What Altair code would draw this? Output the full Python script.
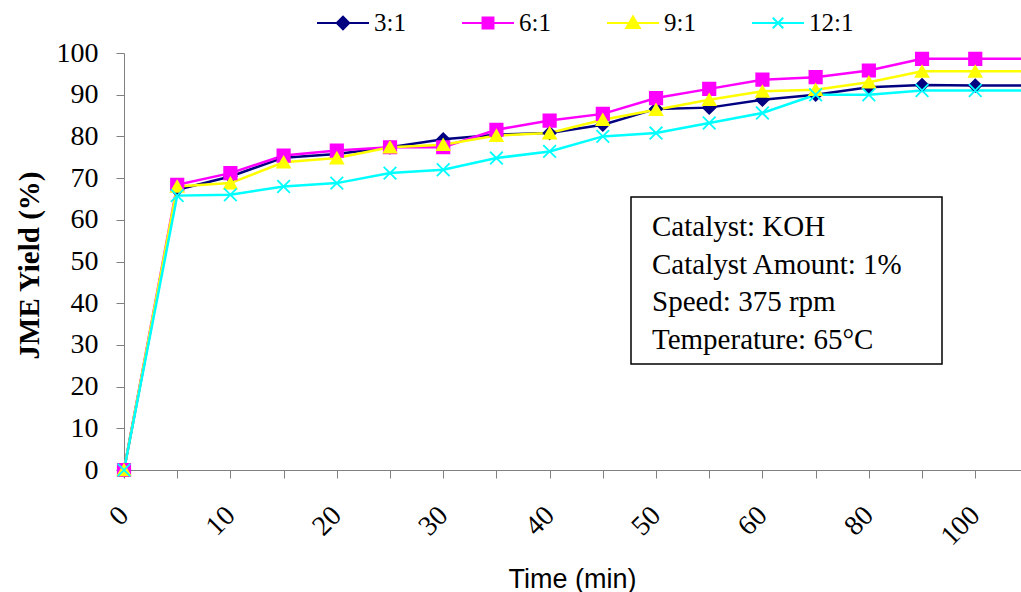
import json
import altair as alt
import pandas as pd

# ---- data ----
times = ["0", "5", "10", "15", "20", "25", "30", "35", "40", "45", "50", "55",
         "60", "70", "80", "90", "100", "110"]
series_names = ["3:1", "6:1", "9:1", "12:1"]
y_3 = [0, 67.2, 70.4, 74.9, 75.8, 77.4, 79.3, 80.4, 80.8, 82.8, 86.6, 86.9,
       88.8, 90.0, 91.8, 92.3, 92.2, 92.2]
y_6 = [0, 68.4, 71.2, 75.4, 76.6, 77.4, 77.4, 81.6, 83.8, 85.4, 89.2, 91.4,
       93.6, 94.2, 95.8, 98.6, 98.6, 98.6]
y_9 = [0, 68.0, 68.8, 73.8, 74.8, 77.4, 78.0, 80.2, 80.8, 84.0, 86.4, 88.8,
       90.8, 91.2, 93.0, 95.6, 95.6, 95.6]
y_12 = [0, 65.8, 66.0, 68.0, 68.8, 71.2, 72.0, 74.8, 76.4, 80.0, 80.8, 83.2,
        85.6, 90.0, 90.0, 91.0, 91.0, 91.0]
colors = ["#000080", "#FF00FF", "#FFFF00", "#00FFFF"]
note_lines = ["Catalyst: KOH", "Catalyst Amount: 1%", "Speed: 375 rpm",
              "Temperature: 65°C"]

rows = []
for name, ys in zip(series_names, [y_3, y_6, y_9, y_12]):
    for i, v in enumerate(ys):
        rows.append({"idx": i, "time": times[i], "Ratio": name, "yield": v})
df = pd.DataFrame(rows)
one_row = pd.DataFrame({"note": ["box"]})

SERIF = "Liberation Serif"
SANS = "Liberation Sans"

label_expr = ("datum.value % 2 == 0 ? " + json.dumps(times) +
              "[datum.value] : ''")

x_enc = alt.X(
    "idx:Q",
    scale=alt.Scale(domain=[0, 16.86], nice=False, zero=False),
    axis=alt.Axis(
        values=list(range(17)), labelExpr=label_expr, grid=False,
        labelAngle=315, labelAlign="right", labelBaseline="middle",
        labelFont=SERIF, labelFontSize=28, labelColor="black",
        labelPadding=33, tickSize=8, tickColor="#808080",
        domainColor="#808080", labelOverlap=False,
        title="Time (min)", titleFont=SANS, titleFontSize=27,
        titleFontWeight="normal", titleColor="black",
        titleX=448, titleY=117, titleAlign="center",
        titleBaseline="alphabetic",
    ),
)
y_enc = alt.Y(
    "yield:Q",
    scale=alt.Scale(domain=[0, 100], nice=False),
    axis=alt.Axis(
        values=list(range(0, 101, 10)), grid=False, labelFont=SERIF,
        labelFontSize=28, labelColor="black", labelPadding=18, tickSize=8,
        tickColor="#808080", domainColor="#808080",
        title="JME Yield (%)", titleFont=SERIF, titleFontSize=29,
        titleFontWeight="bold", titleColor="black", titleAngle=270,
        titleX=-95, titleY=212, titleAlign="center", titleBaseline="middle",
    ),
)

dom = series_names
stroke_nolegend = alt.Stroke("Ratio:N", scale=alt.Scale(domain=dom, range=colors), legend=None)
fill_nolegend = alt.Fill("Ratio:N", scale=alt.Scale(domain=dom, range=colors), legend=None)

lines = alt.Chart(df).mark_line(strokeWidth=2.5).encode(
    x=x_enc, y=y_enc, stroke=stroke_nolegend, order=alt.Order("idx:Q"))

marker_shapes = ["diamond", "square", "triangle-up", "M-1,-1L1,1M-1,1L1,-1"]
points = alt.Chart(df).mark_point(filled=True, opacity=1, strokeWidth=1.8).encode(
    x=x_enc, y=y_enc,
    shape=alt.Shape("Ratio:N", scale=alt.Scale(domain=dom, range=marker_shapes), legend=None),
    size=alt.Size("Ratio:N", scale=alt.Scale(domain=dom, range=[150, 160, 170, 150]), legend=None),
    fill=fill_nolegend, stroke=stroke_nolegend,
)

legend_paths = [
    "M-1,0L-0.24,0M0.24,0L1,0M-0.24,0L0,-0.24L0.24,0L0,0.24Z",
    "M-1,0L1,0M-0.21,-0.21L0.21,-0.21L0.21,0.21L-0.21,0.21Z",
    "M-1,0L1,0M0,-0.25L0.26,0.19L-0.26,0.19Z",
    "M-1,0L1,0M-0.2,-0.2L0.2,0.2M-0.2,0.2L0.2,-0.2",
]
leg = alt.Legend(
    orient="none", legendX=192, legendY=-57, direction="horizontal",
    title=None, symbolSize=2704, symbolStrokeWidth=2, symbolOpacity=1,
    labelFont=SERIF, labelFontSize=25, labelColor="black", labelOffset=4,
    columnPadding=52, padding=0,
)
legend_layer = alt.Chart(df).mark_point(filled=True, opacity=0).encode(
    x=x_enc, y=y_enc,
    shape=alt.Shape("Ratio:N", scale=alt.Scale(domain=dom, range=legend_paths), legend=leg),
    fill=alt.Fill("Ratio:N", scale=alt.Scale(domain=dom, range=colors), legend=leg),
    stroke=alt.Stroke("Ratio:N", scale=alt.Scale(domain=dom, range=colors), legend=leg),
)

box = alt.Chart(one_row).mark_rect(fill="white", stroke="black", strokeWidth=1.5).encode(
    x=alt.value(507), x2=alt.value(818), y=alt.value(144), y2=alt.value(311))
note = alt.Chart(one_row).mark_text(
    text=note_lines, align="left", baseline="top", font=SERIF, fontSize=29,
    lineHeight=37.5, color="black").encode(x=alt.value(528), y=alt.value(160))

chart = alt.layer(lines, points, legend_layer, box, note).resolve_scale(
    shape="independent", fill="independent", stroke="independent"
).properties(
    width=897, height=417,
    padding={"left": 124, "top": 53, "right": 0, "bottom": 122},
    autosize=alt.AutoSizeParams(type="none"),
    background="white",
).configure_view(stroke=None)

chart.save("out.html", embed_options={"renderer": "svg", "actions": False})
